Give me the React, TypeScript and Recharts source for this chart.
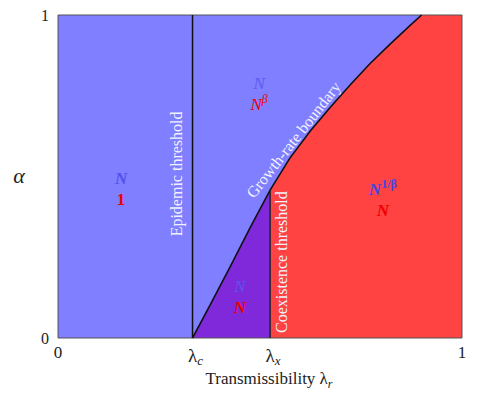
import {
  Area,
  ComposedChart,
  Line,
  ReferenceArea,
  ReferenceDot,
  ReferenceLine,
  XAxis,
  YAxis,
} from "recharts";

// thresholds on the transmissibility axis
const LAMBDA_C = 0.333;
const LAMBDA_X = 0.525;

// growth-rate boundary
const boundaryX = [0.333, 0.376, 0.426, 0.475, 0.525, 0.574, 0.624, 0.673, 0.723, 0.772, 0.822, 0.871, 0.9];
const boundaryY = [0, 0.101, 0.22, 0.34, 0.458, 0.557, 0.64, 0.713, 0.783, 0.849, 0.91, 0.967, 1];

const xTicks = [0, LAMBDA_C, LAMBDA_X, 1];
const xTickLabels = [
  ["0", ""],
  ["λ", "c"],
  ["λ", "x"],
  ["1", ""],
];
const yTicks = [0, 1];

const BLUE = "#7f7fff";
const RED = "#ff4343";
const PURPLE = "#8029da";
const INK_BLUE = "#4646e4";
const INK_RED = "#ee0000";
const PALE = "#f2f2ff";
const SERIF = "'Liberation Serif', 'Times New Roman', serif";

const rows: { x: number; boundary: number | null; mixed: number | null; host: number | null }[] =
  boundaryX.map((x, i) => ({
    x,
    boundary: boundaryY[i],
    mixed: x <= LAMBDA_X ? boundaryY[i] : null,
    host: x >= LAMBDA_X ? boundaryY[i] : null,
  }));
rows.push({ x: 1, boundary: null, mixed: null, host: 1 });

const boundaryAtX = boundaryY[boundaryX.indexOf(LAMBDA_X)];

function center(viewBox: any) {
  return { cx: viewBox.x + viewBox.width / 2, cy: viewBox.y + viewBox.height / 2 };
}

// two stacked symbols (blue over red) centred on the dot
function Pair({ viewBox, top, bottom }: any) {
  const { cx, cy } = center(viewBox);
  return (
    <g fontFamily={SERIF} fontStyle="italic" fontSize={17} textAnchor="middle">
      <text x={cx} y={cy - 4}>{top}</text>
      <text x={cx} y={cy + 17}>{bottom}</text>
    </g>
  );
}

function Rotated({ viewBox, text, rot }: any) {
  const { cx, cy } = center(viewBox);
  return (
    <text
      x={cx}
      y={cy}
      dy={5}
      textAnchor="middle"
      fill={PALE}
      fontFamily={SERIF}
      fontSize={16}
      transform={`rotate(${rot}, ${cx}, ${cy})`}
    >
      {text}
    </text>
  );
}

function XTick({ x, y, payload }: any) {
  const idx = xTicks.indexOf(payload.value);
  const [main, sub] = xTickLabels[idx] ?? [String(payload.value), ""];
  if (!sub) {
    return (
      <text x={x} y={y + 20} textAnchor="middle" fontFamily={SERIF} fontSize={17} fill="#222">
        {main}
      </text>
    );
  }
  return (
    <text x={x + 3} y={y + 24} textAnchor="middle" fontFamily={SERIF} fontSize={19} fill="#222">
      {main}
      <tspan fontStyle="italic" fontSize={13} dy={3}>
        {sub}
      </tspan>
    </text>
  );
}

function YTick({ x, y, payload }: any) {
  return (
    <text x={x - 9} y={y + 6} textAnchor="end" fontFamily={SERIF} fontSize={16} fill="#222">
      {payload.value}
    </text>
  );
}

export default function App() {
  return (
    <div style={{ position: "absolute", left: 0, top: 0, background: "#fff" }}>
      <ComposedChart width={498} height={396} data={rows} margin={{ top: 15, right: 36, bottom: 0, left: 0 }}>
        <XAxis
          type="number"
          dataKey="x"
          domain={[0, 1]}
          ticks={xTicks}
          tick={<XTick />}
          tickSize={0}
          tickMargin={0}
          axisLine={false}
          tickLine={false}
          height={58}
          label={{
            content: ({ viewBox }: any) => (
              <text
                x={viewBox.x + viewBox.width / 2 + 9}
                y={viewBox.y + 46}
                textAnchor="middle"
                fontFamily={SERIF}
                fontSize={17}
                fill="#222"
              >
                Transmissibility λ
                <tspan fontStyle="italic" fontSize={12} dy={4}>
                  r
                </tspan>
              </text>
            ),
          }}
        />
        <YAxis
          type="number"
          domain={[0, 1]}
          ticks={yTicks}
          tick={<YTick />}
          tickSize={0}
          tickMargin={0}
          axisLine={false}
          tickLine={false}
          width={58}
          label={{
            content: ({ viewBox }: any) => (
              <text
                x={19}
                y={viewBox.y + viewBox.height / 2 + 6}
                textAnchor="middle"
                fontFamily={SERIF}
                fontStyle="italic"
                fontSize={22}
                fill="#222"
              >
                α
              </text>
            ),
          }}
        />
        <ReferenceArea x1={0} x2={1} y1={0} y2={1} fill={BLUE} fillOpacity={1} stroke="none" />
        <Area
          type="linear"
          dataKey="mixed"
          fill={PURPLE}
          fillOpacity={1}
          stroke="none"
          isAnimationActive={false}
        />
        <Area
          type="linear"
          dataKey="host"
          fill={RED}
          fillOpacity={1}
          stroke="none"
          isAnimationActive={false}
        />
        <Line
          type="linear"
          dataKey="boundary"
          stroke="#111"
          strokeWidth={1.6}
          dot={false}
          isAnimationActive={false}
        />
        <ReferenceLine x={LAMBDA_C} stroke="#111" strokeWidth={1.5} />
        <ReferenceLine
          segment={[
            { x: LAMBDA_X, y: 0 },
            { x: LAMBDA_X, y: boundaryAtX },
          ]}
          stroke="#222"
          strokeWidth={1.5}
        />
        <ReferenceArea x1={0} x2={1} y1={0} y2={1} fill="none" stroke="#555" strokeWidth={1} />

        <ReferenceDot x={0.295} y={0.508} r={1} fill="none" stroke="none" label={<Rotated text="Epidemic threshold" rot={-90} />} />
        <ReferenceDot x={0.554} y={0.235} r={1} fill="none" stroke="none" label={<Rotated text="Coexistence threshold" rot={-90} />} />
        <ReferenceDot x={0.584} y={0.613} r={1} fill="none" stroke="none" label={<Rotated text="Growth-rate boundary" rot={-52} />} />

        <ReferenceDot
          x={0.156}
          y={0.464}
          r={1}
          fill="none"
          stroke="none"
          label={
            <Pair
              top={<tspan fill="#5252ee" fontWeight="bold">N</tspan>}
              bottom={<tspan fill={INK_RED} fontWeight="bold" fontStyle="normal">1</tspan>}
            />
          }
        />
        <ReferenceDot
          x={0.498}
          y={0.76}
          r={1}
          fill="none"
          stroke="none"
          label={
            <Pair
              top={<tspan fill="#5c5cf2">N</tspan>}
              bottom={
                <tspan fill={INK_RED}>
                  N
                  <tspan fontSize={12} dy={-7}>β</tspan>
                </tspan>
              }
            />
          }
        />
        <ReferenceDot
          x={0.45}
          y={0.13}
          r={1}
          fill="none"
          stroke="none"
          label={
            <Pair
              top={<tspan fill="#5555f0">N</tspan>}
              bottom={<tspan fill={INK_RED} fontWeight="bold">N</tspan>}
            />
          }
        />
        <ReferenceDot
          x={0.804}
          y={0.43}
          r={1}
          fill="none"
          stroke="none"
          label={
            <Pair
              top={
                <tspan fill={INK_BLUE} fontWeight="bold">
                  N
                  <tspan fontSize={12} dy={-7} fontStyle="normal">1/β</tspan>
                </tspan>
              }
              bottom={<tspan fill={INK_RED} fontWeight="bold">N</tspan>}
            />
          }
        />
      </ComposedChart>
    </div>
  );
}
